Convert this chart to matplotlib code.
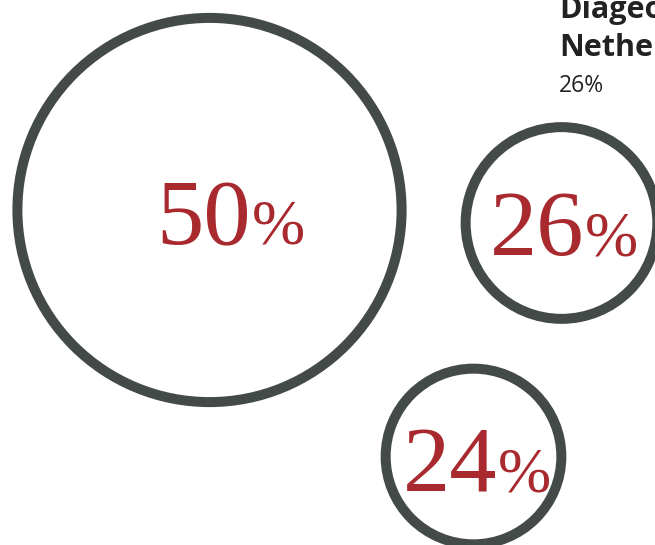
import matplotlib
matplotlib.use("Agg")
import matplotlib.pyplot as plt
from matplotlib.patches import Circle

# data
values = [50, 26, 24]
value_labels = ['50', '26', '24']
callout_title = 'Diageo\nNetherlands'
callout_value = '26%'

# layout (pixel coords, y down)
centers = [(209.5, 210), (561.5, 223), (473.5, 456.5)]
label_anchor = [(251, 244), (584, 255), (497, 491)]
R_OFFSET, R_PER_UNIT = -8.4, 4.01   # radius scale in px
RED, EDGE = '#a8292e', '#434a47'

fig = plt.figure(figsize=(6.55, 5.45), dpi=100)
ax = fig.add_axes([0, 0, 1, 1])
ax.set_xlim(0, 655); ax.set_ylim(545, 0)
ax.set_aspect('equal'); ax.axis('off')

for v, lbl, (cx, cy), (lx, ly) in zip(values, value_labels, centers, label_anchor):
    ax.add_patch(Circle((cx, cy), R_OFFSET + v * R_PER_UNIT, fill=False, ec=EDGE, lw=7.2))
    ax.text(lx, ly, lbl, ha='right', va='baseline', color=RED,
            fontsize=68, family='Liberation Serif')
    ax.text(lx + 1, ly, '%', ha='left', va='baseline', color=RED,
            fontsize=46, family='Liberation Serif')

ax.text(559, 56, callout_title, ha='left', va='baseline', color='#222222',
        fontsize=22, fontweight='bold', family='Open Sans', linespacing=1.35)
ax.text(559, 92, callout_value, ha='left', va='baseline', color='#222222',
        fontsize=16.5, family='Open Sans')

fig.savefig('out.png', dpi=100, facecolor='white')
